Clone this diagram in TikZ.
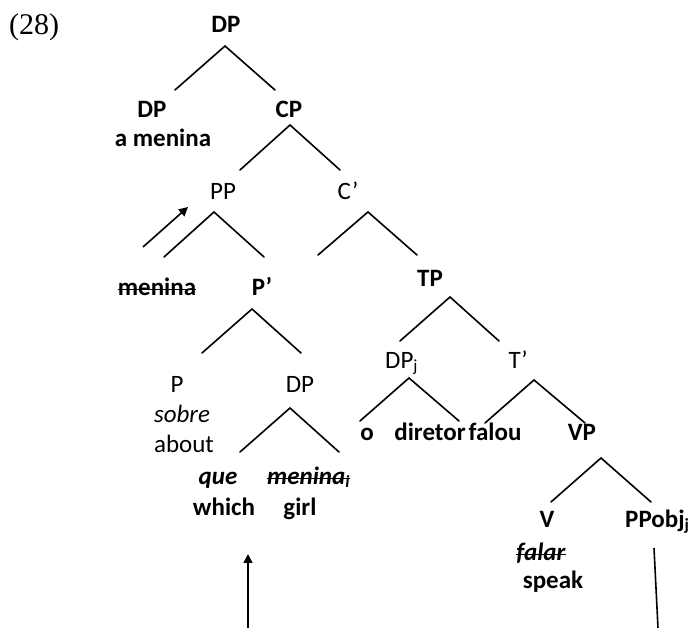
\documentclass[tikz,border=0pt]{standalone}
\usepackage{fontspec}
\setmainfont{Carlito}
\newfontfamily\numfont{Liberation Serif}
\usetikzlibrary{arrows.meta}
\newcommand\mysub[1]{\raisebox{-2.5pt}{\fontsize{17}{17}\selectfont #1}}
\tikzset{
  lab/.style={inner sep=0pt, anchor=base, font=\fontsize{25}{28}\selectfont},
  labw/.style={lab, anchor=base west},
  br/.style={line width=1.6pt, line cap=round},
  strk/.style={line width=1.6pt},
  mv/.style={line width=1.6pt, -{Triangle[length=9pt,width=9pt]}}
}
\begin{document}
\begin{tikzpicture}[x=1pt,y=-1pt]
\useasboundingbox (0,0) rectangle (689,628);
% labels
\node[labw, font=\numfont\fontsize{30}{34}\selectfont] (ex) at (9,35) {(28)};
\node[lab] (dp0) at (226,33) {\textbf{DP}};
\node[lab] (dp1) at (152,118) {\textbf{DP}};
\node[lab] (amen) at (163,147) {\textbf{a menina}};
\node[lab] (cp) at (289,118) {\textbf{CP}};
\node[lab] (pp) at (223,200) {PP};
\node[lab] (cbar) at (348,200) {C’};
\node[lab] (men) at (157,296) {\textbf{menina}};
\node[lab] (pbar) at (262,296) {\textbf{P’}};
\node[lab] (tp) at (430,287) {\textbf{TP}};
\node[labw] (dpj) at (385,369) {DP\mysub{j}};
\node[lab] (tbar) at (518,369) {T’};
\node[lab] (p) at (177,393) {P};
\node[lab] (dp2) at (300,393) {DP};
\node[lab] (sobre) at (182,423) {\textit{sobre}};
\node[lab] (about) at (184,453) {about};
\node[lab] (o) at (367,441) {\textbf{o}};
\node[lab] (dir) at (430,441) {\textbf{diretor}};
\node[lab] (falou) at (495,441) {\textbf{falou}};
\node[lab] (vp) at (582,441) {\textbf{VP}};
\node[lab] (que) at (218,485) {\textbf{\textit{que}}};
\node[labw] (meni) at (267,485) {\textbf{\textit{menina}}\mysub{\textbf{\textit{i}}}};
\node[lab] (which) at (224,516) {\textbf{which}};
\node[lab] (girl) at (300,516) {\textbf{girl}};
\node[lab] (v) at (547,528) {\textbf{V}};
\node[labw] (ppobj) at (625,528) {\textbf{PPobj}\mysub{\textbf{j}}};
\node[lab] (falar) at (541,561) {\textbf{\textit{falar}}};
\node[lab] (speak) at (553,588) {\textbf{speak}};
% strike-throughs
\foreach \s in {men,meni,falar}
  {\draw[strk] ([yshift=6.5pt]\s.base west) -- ([yshift=6.5pt]\s.base east);}
% branch points
\coordinate (a0) at (225,46); \coordinate (a0l) at (175,90); \coordinate (a0r) at (275,90);
\coordinate (a1) at (290,125); \coordinate (a1l) at (240,170); \coordinate (a1r) at (340,170);
\coordinate (a2) at (214,212); \coordinate (a2l) at (164,257); \coordinate (a2r) at (264,257);
\coordinate (a3) at (368,212); \coordinate (a3l) at (318,255); \coordinate (a3r) at (417,255);
\coordinate (a4) at (252,309); \coordinate (a4l) at (202,353); \coordinate (a4r) at (301,353);
\coordinate (a5) at (450,297); \coordinate (a5l) at (400,341); \coordinate (a5r) at (499,341);
\coordinate (a6) at (290,408); \coordinate (a6l) at (240,452); \coordinate (a6r) at (339,452);
\coordinate (a7) at (409,378); \coordinate (a7l) at (360,421); \coordinate (a7r) at (459,421);
\coordinate (a8) at (534,380); \coordinate (a8l) at (485,423); \coordinate (a8r) at (585,423);
\coordinate (a9) at (601,458); \coordinate (a9l) at (551,502); \coordinate (a9r) at (651,502);
\foreach \n in {0,...,9} {\draw[br] (a\n l) -- (a\n) -- (a\n r);}
% movement
\coordinate (m1s) at (143,247); \coordinate (m1e) at (188,207);
\draw[mv] (m1s) -- (m1e);
\coordinate (m2s) at (248,628); \coordinate (m2e) at (248,554);
\draw[mv] (m2s) -- (m2e);
\coordinate (t1) at (654,548); \coordinate (t2) at (658,628);
\draw[line width=1.6pt] (t1) -- (t2);
\end{tikzpicture}
\end{document}
